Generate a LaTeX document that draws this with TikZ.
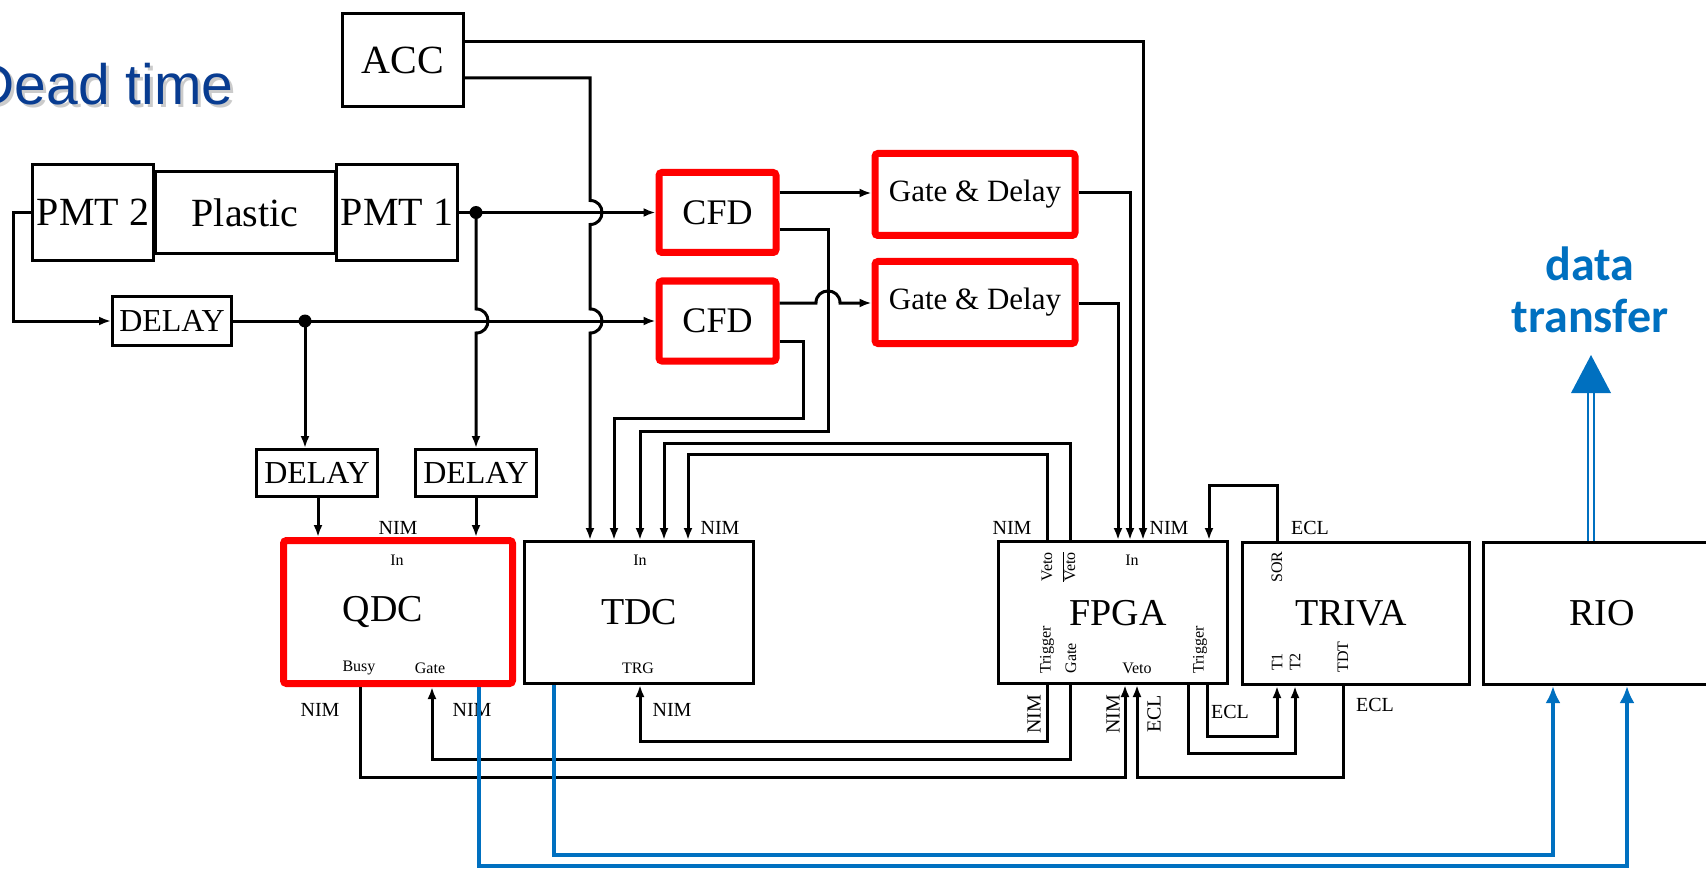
\documentclass[tikz,border=0pt]{standalone}
\usepackage{fontspec}
\setmainfont{Liberation Serif}
\newfontfamily\titlefont{Liberation Sans}
\newfontfamily\calfont{Carlito}
\usetikzlibrary{arrows.meta,calc}
\definecolor{myred}{RGB}{255,0,0}
\definecolor{dblue}{RGB}{0,112,192}
\definecolor{titleblue}{RGB}{8,60,145}
\tikzset{
  box/.style={draw=black, line width=3pt, inner sep=0pt, align=center, font=\fontsize{38}{40}\selectfont},
  rbox/.style={box, draw=myred, line width=7pt, rounded corners=3pt},
  wire/.style={line width=3pt},
  arr/.style={-{Latex[length=12pt,width=9pt]}},
  barr/.style={-{Latex[length=17pt,width=15pt]}},
  bwire/.style={draw=dblue, line width=4.5pt},
  lbl/.style={font=\fontsize{20}{22}\selectfont, inner sep=0pt},
  slbl/.style={font=\fontsize{16}{18}\selectfont, inner sep=0pt},
  jdot/.style={circle, fill=black, inner sep=0pt, minimum size=13pt},
  bigtxt/.style={font=\fontsize{40}{42}\selectfont},
}
\begin{document}
\begin{tikzpicture}[x=1pt,y=-1pt]
\useasboundingbox (0,0) rectangle (1706,869);
\fill[white] (0,0) rectangle (1706,869);

% title
\node[anchor=base east, font=\titlefont\fontsize{57}{60}\selectfont, text=black!45, opacity=0.45] (titleshadow) at (240,108) {Dead time};
\node[anchor=base east, font=\titlefont\fontsize{57}{60}\selectfont, text=titleblue] (title) at (237,105) {Dead time};

% boxes
\node[box, bigtxt, minimum width=121pt, minimum height=93pt] (ACC) at (403,60) {ACC};
\node[box, bigtxt, minimum width=121pt, minimum height=96pt] (PMT2) at (93,212.5) {PMT 2};
\node[box, bigtxt, minimum width=180pt, minimum height=82pt] (Plastic) at (245,212.5) {Plastic};
\node[box, bigtxt, minimum width=121pt, minimum height=96pt] (PMT1) at (397,212.5) {PMT 1};
\node[box, minimum width=119pt, minimum height=49pt, font=\fontsize{32}{34}\selectfont] (DELAY1) at (172,321) {DELAY};
\node[rbox, minimum width=117pt, minimum height=80pt, font=\fontsize{36}{38}\selectfont] (CFD1) at (717.5,212.5) {CFD};
\node[rbox, minimum width=117pt, minimum height=80pt, font=\fontsize{36}{38}\selectfont] (CFD2) at (717.5,321) {CFD};
\node[rbox, minimum width=200pt, minimum height=82pt, font=\fontsize{31}{33}\selectfont] (GD1) at (975,194.5) {Gate \& Delay};
\node[rbox, minimum width=200pt, minimum height=82pt, font=\fontsize{31}{33}\selectfont] (GD2) at (975,302.5) {Gate \& Delay};
\node[box, minimum width=121pt, minimum height=47pt, font=\fontsize{32}{34}\selectfont] (DELAY2) at (317,473) {DELAY};
\node[box, minimum width=121pt, minimum height=47pt, font=\fontsize{32}{34}\selectfont] (DELAY3) at (476,473) {DELAY};
\node[rbox, minimum width=229pt, minimum height=143pt] (QDC) at (398,612) {};
\node[font=\fontsize{38}{40}\selectfont, inner sep=0pt] (QDCtxt) at (383,612) {QDC};
\node[box, minimum width=229pt, minimum height=142pt] (TDC) at (639,612.5) {TDC};
\node[box, minimum width=229pt, minimum height=142pt] (FPGA) at (1113,612.5) {};
\node[font=\fontsize{38}{40}\selectfont, inner sep=0pt] (FPGAtxt) at (1118,613) {FPGA};
\node[box, minimum width=227pt, minimum height=142pt] (TRIVA) at (1356,613.5) {};
\node[font=\fontsize{38}{40}\selectfont, inner sep=0pt] (TRIVAtxt) at (1351,613) {TRIVA};
\node[box, minimum width=237pt, minimum height=142pt] (RIO) at (1602,613.5) {RIO};

% junction dots
\node[jdot] (j1) at (476,212.5) {};
\node[jdot] (j2) at (305,321) {};

% black wires
\draw[wire,arr] (PMT1.east) -- (CFD1.west);
\draw[wire,arr] (j1.center) -- (476,309) .. controls (492,309) and (492,333) .. (476,333) -- (DELAY3.north);
\draw[wire,arr] (PMT2.west) -- (13,212.5) -- (13,321) -- (DELAY1.west);
\draw[wire,arr] (DELAY1.east) -- (CFD2.west);
\draw[wire,arr] (j2.center) -- (305,0 |- DELAY2.north);
\draw[wire,arr] (318,0 |- DELAY2.south) -- (318,0 |- QDC.north);
\draw[wire,arr] (DELAY3.south) -- (DELAY3.south |- QDC.north);

\draw[wire,arr] (ACC.east |- 0,78) -- (590,78) -- (590,200.5) .. controls (606,200.5) and (606,224.5) .. (590,224.5)
   -- (590,309) .. controls (606,309) and (606,333) .. (590,333) -- (590,0 |- TDC.north);
\draw[wire,arr] (ACC.east |- 0,42) -- (1143,42) -- (1143,0 |- FPGA.north);

\draw[wire,arr] (CFD1.east |- 0,193) -- (GD1.west |- 0,193);
\draw[wire,arr] (CFD1.east |- 0,230) -- (828,230) -- (828,431) -- (640,431) -- (640,0 |- TDC.north);
\draw[wire,arr] (CFD2.east |- 0,303) -- (816,303) .. controls (816,287) and (840,287) .. (840,303) -- (GD2.west |- 0,303);
\draw[wire,arr] (CFD2.east |- 0,341) -- (803,341) -- (803,418) -- (614,418) -- (614,0 |- TDC.north);
\draw[wire,arr] (GD1.east |- 0,193) -- (1130,193) -- (1130,0 |- FPGA.north);
\draw[wire,arr] (GD2.east |- 0,303) -- (1118,303) -- (1118,0 |- FPGA.north);

\draw[wire,arr] (1070,0 |- FPGA.north) -- (1070,443) -- (664,443) -- (664,0 |- TDC.north);
\draw[wire,arr] (1047,0 |- FPGA.north) -- (1047,454) -- (688,454) -- (688,0 |- TDC.north);
\draw[wire,arr] (1277,0 |- TRIVA.north) -- (1277,485) -- (1209,485) -- (1209,0 |- FPGA.north);

\draw[wire,arr] (360,0 |- QDC.south) -- (360,777) -- (1125,777) -- (1125,0 |- FPGA.south);
\draw[wire,arr] (1070,0 |- FPGA.south) -- (1070,759) -- (432,759) -- (432,0 |- QDC.south);
\draw[wire,arr] (1047,0 |- FPGA.south) -- (1047,741) -- (640,741) -- (640,0 |- TDC.south);
\draw[wire,arr] (1343,0 |- TRIVA.south) -- (1343,777) -- (1137,777) -- (1137,0 |- FPGA.south);
\draw[wire,arr] (1207,0 |- FPGA.south) -- (1207,736) -- (1277,736) -- (1277,0 |- TRIVA.south);
\draw[wire,arr] (1188,0 |- FPGA.south) -- (1188,753) -- (1295,753) -- (1295,0 |- TRIVA.south);

% labels
\node[lbl] (n1) at (398,528) {NIM};
\node[lbl] (n2) at (720,528) {NIM};
\node[lbl] (n3) at (1012,528) {NIM};
\node[lbl] (n4) at (1169,528) {NIM};
\node[lbl] (e1) at (1310,528) {ECL};
\node[slbl] (in1) at (397,560) {In};
\node[slbl] (in2) at (640,560) {In};
\node[slbl] (in3) at (1132,560) {In};
\node[slbl] (busy) at (359,668) {Busy};
\node[slbl] (gate) at (430,668) {Gate};
\node[slbl] (trg) at (638,668) {TRG};
\node[lbl] (n5) at (320,710) {NIM};
\node[lbl] (n6) at (472,710) {NIM};
\node[lbl] (n7) at (672,710) {NIM};
\node[slbl, rotate=90] (veto1) at (1047,567) {Veto};
\node[slbl, rotate=90] (veto2) at (1069,567) {$\overline{\mbox{Veto}}$};
\node[slbl, rotate=90] (trig1) at (1047,650) {Trigger};
\node[slbl, rotate=90] (gate2) at (1071,658) {Gate};
\node[slbl] (veto3) at (1137,668) {Veto};
\node[slbl, rotate=90] (trig2) at (1200,650) {Trigger};
\node[lbl, rotate=90] (n8) at (1034,714) {NIM};
\node[lbl, rotate=90] (n9) at (1113,714) {NIM};
\node[lbl, rotate=90] (e2) at (1154,714) {ECL};
\node[lbl] (e3) at (1230,712) {ECL};
\node[slbl, rotate=90] (sor) at (1277,567) {SOR};
\node[slbl, rotate=90] (t1) at (1277,662) {T1};
\node[slbl, rotate=90] (t2) at (1295,662) {T2};
\node[slbl, rotate=90] (tdt) at (1343,657) {TDT};
\node[lbl] (e4) at (1375,705) {ECL};

% blue wires
\draw[bwire,barr] (479,0 |- QDC.south) -- (479,866) -- (1627,866) -- (1627,0 |- RIO.south);
\draw[bwire,barr] (554,0 |- TDC.south) -- (554,855) -- (1553,855) -- (1553,0 |- RIO.south);

% data transfer
\coordinate (dtip) at (1591,355);
\draw[draw=dblue, line width=2.2pt, double=white, double distance=4pt] (1591,0 |- RIO.north) -- (1591,392);
\fill[dblue] (1571,393) -- (dtip) -- (1611,393) -- cycle;
\node[font=\calfont\bfseries\fontsize{48}{52}\selectfont, text=dblue, align=center, inner sep=0pt] (dt) at (1590,290) {data\\transfer};
\end{tikzpicture}
\end{document}
